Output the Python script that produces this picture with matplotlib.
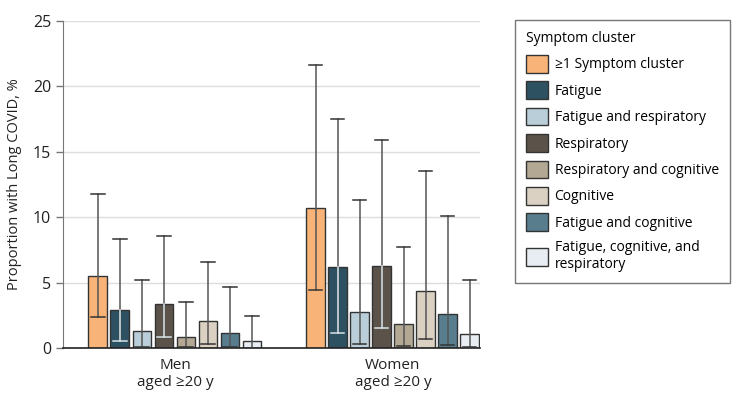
import matplotlib
matplotlib.use("Agg")
import matplotlib.pyplot as plt
from matplotlib.patches import Patch
import numpy as np

plt.rcParams["font.family"] = ["Open Sans", "DejaVu Sans"]

groups = ["Men\naged \u226520 y", "Women\naged \u226520 y"]
clusters = [
    "\u22651 Symptom cluster",
    "Fatigue",
    "Fatigue and respiratory",
    "Respiratory",
    "Respiratory and cognitive",
    "Cognitive",
    "Fatigue and cognitive",
    "Fatigue, cognitive, and\nrespiratory",
]
colors = ["#F8B478", "#2D5161", "#BACED9", "#5B5349", "#B3A894", "#DAD1C3", "#587E8E", "#E7EDF2"]
dark_fill = [False, True, False, True, False, False, False, False]

men_vals = [5.5, 2.9, 1.27, 3.39, 0.82, 2.04, 1.17, 0.51]
men_low = [2.35, 0.55, 0.1, 0.87, 0.05, 0.3, 0.1, 0.02]
men_high = [11.8, 8.35, 5.17, 8.6, 3.55, 6.55, 4.64, 2.45]

women_vals = [10.7, 6.17, 2.78, 6.27, 1.81, 4.36, 2.57, 1.1]
women_low = [4.43, 1.17, 0.28, 1.5, 0.15, 0.69, 0.23, 0.05]
women_high = [21.6, 17.5, 11.3, 15.9, 7.75, 13.5, 10.1, 5.2]

vals = [men_vals, women_vals]
lows = [men_low, women_low]
highs = [men_high, women_high]

fig = plt.figure(figsize=(7.45, 3.96), dpi=100)
ax = fig.add_axes([63 / 745, 48 / 396, 417 / 745, 327 / 396])

pitch = 0.101
width = 0.087
cap = 0.03
offsets = (np.arange(len(clusters)) - 3.5) * pitch

for g in range(len(groups)):
    for i in range(len(clusters)):
        x = g + offsets[i]
        v, lo, hi = vals[g][i], lows[g][i], highs[g][i]
        ax.bar(x, v, width=width, color=colors[i], edgecolor="#333333", linewidth=1.0, zorder=2)
        ax.plot([x, x], [lo, hi], color="#555555", lw=1.1, zorder=3)
        ax.plot([x - cap, x + cap], [hi, hi], color="#333333", lw=1.1, zorder=3)
        inner = "#D8E3E8" if dark_fill[i] else "#333333"
        if dark_fill[i]:
            ax.plot([x, x], [lo, v], color=inner, lw=1.1, zorder=4)
        ax.plot([x - cap, x + cap], [lo, lo], color=inner, lw=1.1, zorder=4)

ax.set_xlim(-0.514, 1.4)
ax.set_ylim(0, 25)
ax.set_yticks([0, 5, 10, 15, 20, 25])
ax.set_xticks([0, 1])
ax.set_xticklabels(groups, fontsize=11, color="#222222", linespacing=1.25)
ax.tick_params(axis="x", length=0, pad=7)
ax.tick_params(axis="y", labelsize=11.5, colors="#222222", length=5, width=1, color="#777777")
ax.yaxis.grid(True, color="#DDDDDD", lw=1, zorder=0)
ax.set_axisbelow(True)
for s in ["top", "right"]:
    ax.spines[s].set_visible(False)
ax.spines["left"].set_color("#777777")
ax.spines["bottom"].set_color("#222222")
ax.spines["bottom"].set_linewidth(1.2)
ax.set_ylabel("Proportion with Long COVID, %", fontsize=10.5, color="#222222", labelpad=8)

handles = [Patch(facecolor=c, edgecolor="#333333", linewidth=1.0) for c in colors]
leg = fig.legend(
    handles, clusters, title="Symptom cluster", loc="upper left",
    bbox_to_anchor=(515 / 745, 1 - 20 / 396), borderaxespad=0, frameon=True, fontsize=10,
    title_fontsize=10, handlelength=1.6, handleheight=1.6, handletextpad=0.45,
    labelspacing=0.62, borderpad=0.8, fancybox=False, alignment="left",
)
leg.get_frame().set_edgecolor("#555555")
leg.get_frame().set_linewidth(1.0)

fig.savefig("out.png", dpi=100)
